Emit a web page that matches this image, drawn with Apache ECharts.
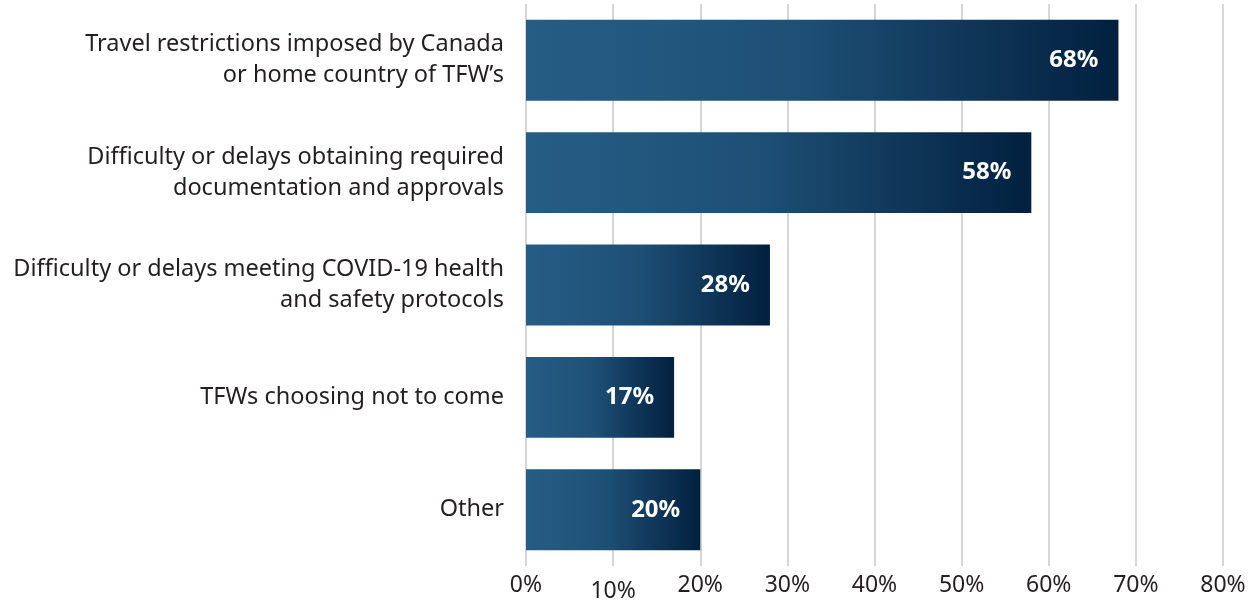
<!DOCTYPE html>
<html><head><meta charset="utf-8">
<script src="https://cdn.jsdelivr.net/npm/echarts@6/dist/echarts.min.js"></script>
<style>html,body{margin:0;padding:0;background:#fff}#c{width:1251px;height:602px}</style>
</head><body><div id="c"></div>
<script>
const categories = [
  "Travel restrictions imposed by Canada\nor home country of TFW\u2019s",
  "Difficulty or delays obtaining required\ndocumentation and approvals",
  "Difficulty or delays meeting COVID-19 health\nand safety protocols",
  "TFWs choosing not to come",
  "Other"
];
const values = [68, 58, 28, 17, 20];
const xTicks = [0, 10, 20, 30, 40, 50, 60, 70, 80];

const chart = echarts.init(document.getElementById('c'));
const font = "'Noto Sans', sans-serif";
chart.setOption({
  animation: false,
  grid: {left: 526, right: 28, top: 4, bottom: 36, containLabel: false, outerBoundsMode: 'none'},
  xAxis: {
    type: 'value', min: xTicks[0], max: xTicks[xTicks.length-1], interval: 10,
    axisLine: {show: false}, axisTick: {show: false},
    splitLine: {show: true, lineStyle: {color: '#c8c8c8', width: 1.5}},
    axisLabel: {
      margin: 8, fontFamily: font, fontSize: 23, color: '#231f20',
      formatter: v => v === 10 ? '{low|' + v + '%}' : v + '%',
      rich: {low: {fontFamily: font, fontSize: 23, color: '#231f20', padding: [6, 0, 0, 0]}}
    }
  },
  yAxis: {
    type: 'category', data: categories, inverse: true,
    axisLine: {show: false}, axisTick: {show: false},
    axisLabel: {margin: 22, fontFamily: font, fontSize: 23.5, color: '#231f20', lineHeight: 31, align: 'right'}
  },
  series: [{
    type: 'bar', data: values, barWidth: '72%',
    itemStyle: {color: new echarts.graphic.LinearGradient(0, 0, 1, 0, [
      {offset: 0, color: '#265d85'}, {offset: 0.45, color: '#1e5076'}, {offset: 1, color: '#02203f'}
    ])},
    label: {show: true, position: 'insideRight', distance: 20, formatter: '{c}%',
      color: '#fff', fontFamily: font, fontWeight: 'bold', fontSize: 24}
  }]
});
</script></body></html>
